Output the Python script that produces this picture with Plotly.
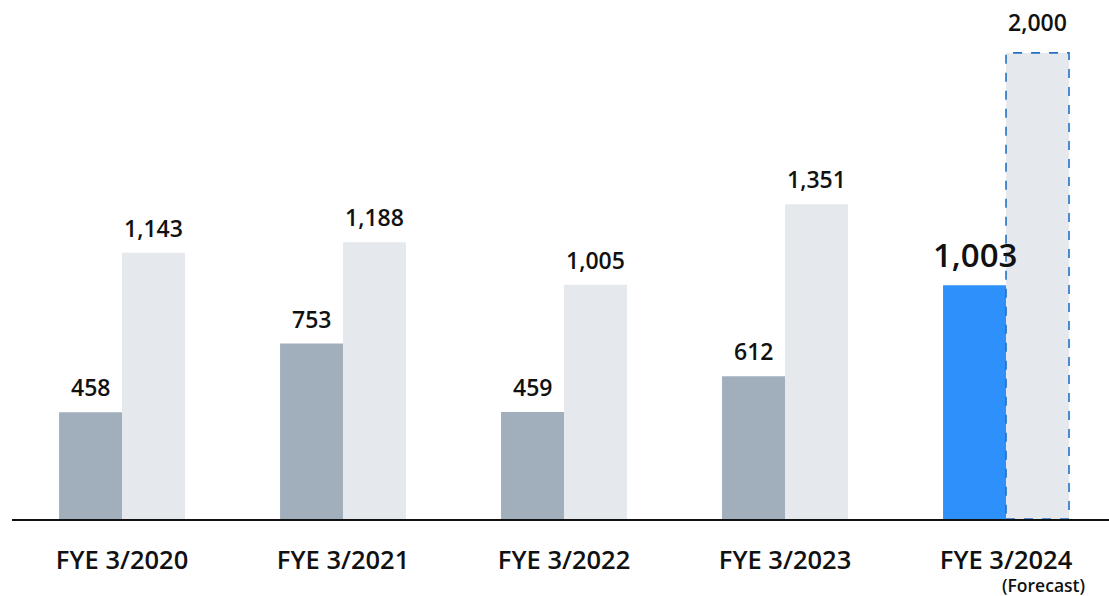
import plotly.graph_objects as go

categories = ["FYE 3/2020", "FYE 3/2021", "FYE 3/2022", "FYE 3/2023", "FYE 3/2024"]
series_a = [458, 753, 459, 612, 1003]
series_b = [1143, 1188, 1005, 1351, 2000]
forecast_note = "(Forecast)"

col_a = ["#A1AFBD"] * 4 + ["#2E90FA"]
col_b = "#E5E8EC"
BARW = 0.285
idx = list(range(len(categories)))

fig = go.Figure()
fig.add_bar(x=idx, y=series_a, marker=dict(color=col_a, line=dict(width=0)), hoverinfo="skip")
fig.add_bar(x=idx, y=series_b, marker=dict(color=col_b, line=dict(width=0)), hoverinfo="skip")

FONT = "Open Sans"
ann = []
for i, (a, b) in enumerate(zip(series_a, series_b)):
    last = i == len(categories) - 1
    ann.append(dict(x=i - BARW / 2, y=a, text=f"{a:,}", showarrow=False, yanchor="bottom", yshift=(6 if last else 7),
                    font=dict(family=FONT, size=(33 if last else 23), color="#111", weight=600)))
    ann.append(dict(x=i + BARW / 2, y=b, text=f"{b:,}", showarrow=False, yanchor="bottom", yshift=(13 if last else 7),
                    font=dict(family=FONT, size=23, color="#111", weight=600)))
ann.append(dict(x=idx[-1], xshift=37, yref="paper", y=0, yshift=-66, yanchor="middle", text=forecast_note,
                showarrow=False, font=dict(family=FONT, size=17.5, color="#111", weight=600)))

shapes = [dict(type="rect", xref="x", yref="y", x0=idx[-1], x1=idx[-1] + BARW, y0=0, y1=series_b[-1],
               line=dict(color="#2470C4", width=1.6, dash="dash"), fillcolor="rgba(0,0,0,0)", layer="above")]

fig.update_layout(
    width=1109, height=596, barmode="group", bargap=0.43, bargroupgap=0,
    plot_bgcolor="white", paper_bgcolor="white", showlegend=False,
    margin=dict(l=12, r=0, t=0, b=77),
    annotations=ann, shapes=shapes,
    xaxis=dict(range=[-0.498, 4.466], tickvals=idx, ticktext=categories, showline=True, linecolor="#111",
               linewidth=1.5, ticks="outside", ticklen=18, tickcolor="rgba(0,0,0,0)", showgrid=False, zeroline=False,
               tickfont=dict(family=FONT, size=25.5, color="#111", weight=600)),
    yaxis=dict(range=[0, 2227], visible=False, showgrid=False, zeroline=False),
)
fig.write_html("out.html", config={"displayModeBar": False},
               post_script="document.body.style.margin='0';document.body.style.overflow='hidden';")
